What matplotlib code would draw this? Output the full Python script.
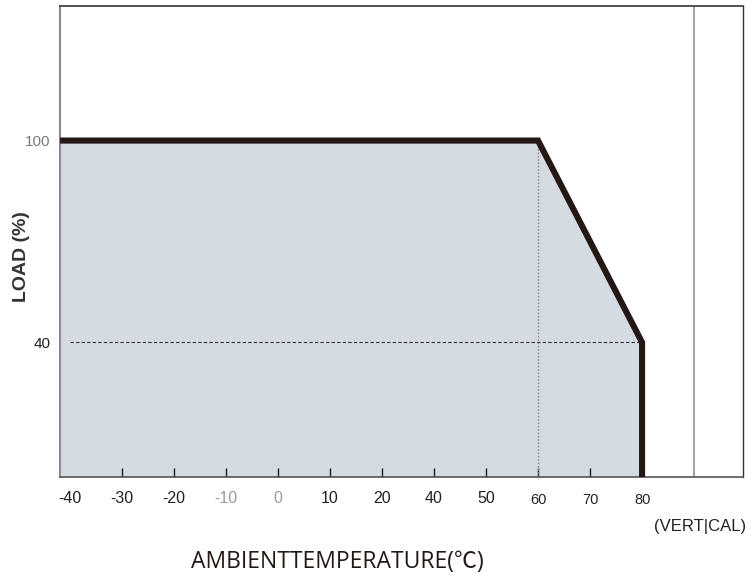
import numpy as np
import matplotlib
matplotlib.use("Agg")
import matplotlib.pyplot as plt

# x axis is categorical-like: ticks are evenly spaced even though the temperatures are not
tick_temps = [-40, -30, -20, -10, 0, 10, 20, 40, 50, 60, 70, 80]
tick_labels = ["-40", "-30", "-20", "-10", "0", "10", "20", "40", "50", "60", "70", "80"]
faded_labels = ["-10", "0"]
small_labels = ["60", "70", "80"]

# derating curve
curve_temp = [-40, 60, 80, 80]
curve_load = [100, 100, 40, 0]

y_ticks = [40, 100]
y_tick_labels = ["40", "100"]

dark = "#231815"
fill_col = "#d5dbe3"

tick_pos = np.arange(len(tick_temps))


def to_pos(t):
    return np.interp(t, tick_temps, tick_pos)


fig = plt.figure(figsize=(7.53, 5.76), dpi=100)
ax = fig.add_axes([0.0797, 0.1719, 0.9070, 0.8177])
x_left, x_right = tick_pos[0] - 0.19, 12.94
ax.set_xlim(x_left, x_right)
ax.set_ylim(0, 140)

# the curve runs from the left frame edge
cx = to_pos(curve_temp)
cx[0] = x_left
ax.fill_between(cx, curve_load, 0, color=fill_col, lw=0, zorder=1)
ax.plot(cx, curve_load, color=dark, lw=4.4, solid_joinstyle="miter",
        solid_capstyle="butt", zorder=4)

# helper lines
x60 = to_pos(60)
ax.plot([x60, x60], [0, 100], color="#8a8a8a", lw=1.0, ls=(0, (1.2, 1.2)), zorder=2)
ax.plot([to_pos(-40), to_pos(80)], [40, 40], color="#333333", lw=0.8,
        ls=(0, (3, 2)), zorder=2)
ax.axvline(len(tick_temps), color="#999999", lw=1.3, zorder=2)

ax.set_xticks(tick_pos)
ax.set_xticklabels(tick_labels, fontfamily="Liberation Sans", fontsize=11.5)
ax.tick_params(axis="x", direction="in", length=6.5, width=1.0, color=dark,
               pad=10, labelcolor="#222222")
ticks = ax.xaxis.get_major_ticks()
ticks[0].tick1line.set_visible(False)
ticks[-1].tick1line.set_visible(False)
for lab in ax.get_xticklabels():
    if lab.get_text() in faded_labels:
        lab.set_color("#9a9a9a")
    if lab.get_text() in small_labels:
        lab.set_fontsize(10.5)
        lab.set_y(-0.004)

ax.set_yticks(y_ticks)
ax.set_yticklabels(y_tick_labels, fontfamily="Liberation Sans", fontsize=11)
ax.tick_params(axis="y", length=0, pad=7, labelcolor="#222222")
for lab in ax.get_yticklabels():
    if lab.get_text() == "100":
        lab.set_color("#7a7a7a")

ax.spines["left"].set_color("#8c8c8c")
ax.spines["left"].set_linewidth(1.5)
ax.spines["top"].set_color("#3a3230")
ax.spines["top"].set_linewidth(1.2)
ax.spines["right"].set_color("#3a3230")
ax.spines["right"].set_linewidth(1.0)
ax.spines["bottom"].set_color("#555555")
ax.spines["bottom"].set_linewidth(1.2)

fig.text(22 / 753, 1 - 257 / 576, "LOAD (%)", rotation=90, ha="center", va="center",
         fontfamily="Liberation Sans", fontweight="bold", fontsize=14, color="#333333")
fig.text(337 / 753, 1 - 562 / 576, "AMBIENTTEMPERATURE(℃)", ha="center", va="center",
         fontfamily=["Open Sans", "Noto Sans CJK SC", "DejaVu Sans"], fontsize=16.5,
         color="#231815")
fig.text(700 / 753, 1 - 527 / 576, "(VERT|CAL)", ha="center", va="center",
         fontfamily="Liberation Sans", fontsize=12, color="#222222")

fig.savefig("out.png", dpi=100)
